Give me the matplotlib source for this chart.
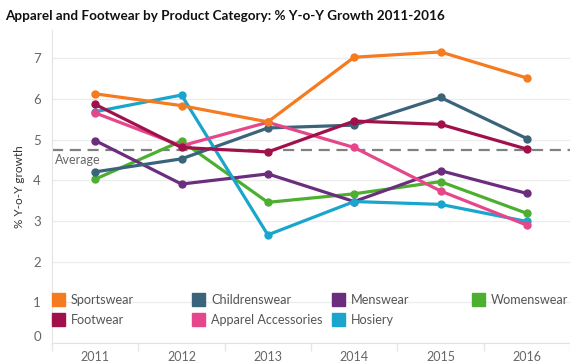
import matplotlib
matplotlib.use("Agg")
import matplotlib.pyplot as plt
from matplotlib.patches import Rectangle

years = ["2011", "2012", "2013", "2014", "2015", "2016"]

sportswear = [6.13, 5.84, 5.44, 7.03, 7.16, 6.52]
childrenswear = [4.21, 4.53, 5.29, 5.36, 6.04, 5.03]
menswear = [4.98, 3.91, 4.16, 3.48, 4.24, 3.68]
womenswear = [4.03, 4.97, 3.46, 3.67, 3.97, 3.19]
footwear = [5.87, 4.81, 4.70, 5.46, 5.38, 4.77]
apparel_acc = [5.66, 4.85, 5.43, 4.81, 3.74, 2.90]
hosiery = [5.69, 6.10, 2.66, 3.48, 3.41, 2.99]

average = 4.76

names = ["Sportswear", "Childrenswear", "Menswear", "Womenswear",
         "Footwear", "Apparel Accessories", "Hosiery"]
series = [sportswear, childrenswear, menswear, womenswear,
          footwear, apparel_acc, hosiery]
colors = ["#F47B20", "#3A6479", "#6B2E7E", "#4CAF30",
          "#A0104A", "#E6478A", "#1AA5CC"]

plt.rcParams['font.family'] = ['Lato', 'DejaVu Sans']

fig = plt.figure(figsize=(5.7, 3.64), dpi=100)
ax = fig.add_axes([52 / 570, 21 / 364, 518 / 570, 313 / 364])

x = list(range(len(years)))
# draw in an order so overlaps look like the original
draw_order = [3, 2, 1, 6, 5, 4, 0]
for i in draw_order:
    ax.plot(x, series[i], color=colors[i], lw=2.3, marker="o", ms=5,
            solid_capstyle="round", zorder=3)

ax.axhline(average, color="#808080", lw=1.6, ls=(0, (5, 3)), zorder=2)
ax.text(-0.46, average - 0.12, "Average", color="#666666", fontsize=9,
        va="top", ha="left")

ax.set_xlim(-0.5, 5.5)
ax.set_ylim(0, 7.7)
ax.set_yticks(range(0, 8))
ax.set_xticks(x)
ax.set_xticklabels(years)
ax.set_xticks([i + 0.5 for i in range(-1, 6)], minor=True)
ax.tick_params(axis="x", which="major", length=0, pad=6, labelsize=9,
               labelcolor="#666666")
ax.tick_params(axis="x", which="minor", length=6, color="#e6e6e6", width=1)
ax.tick_params(axis="y", length=0, pad=8, labelsize=9.5, labelcolor="#666666")
# Tableau keeps the zero label inside the axis
ax.get_yticklabels()[0].set_va("bottom")
ax.grid(axis="y", color="#ececec", lw=0.9, zorder=0)
ax.set_axisbelow(True)
for s in ["top", "right"]:
    ax.spines[s].set_visible(False)
ax.spines["left"].set_color("#e3e3e3")
ax.spines["bottom"].set_color("#e3e3e3")

ax.set_ylabel("% Y-o-Y growth", fontsize=8.5, color="#333333", labelpad=6)

# legend inside the plot, 4 columns x 2 rows
col_x = [0, 140, 280, 420]
row_y = [299, 319]
for k, (name, c) in enumerate(zip(names, colors)):
    r, cidx = divmod(k, 4)
    px = col_x[cidx]
    py = row_y[r]
    fx = (52 + px) / 570
    fy = (364 - py) / 364
    fig.patches.append(Rectangle((fx - 0.5 / 570, fy - 7 / 364), 13 / 570, 13 / 364,
                                 transform=fig.transFigure, color=c, zorder=5))
    fig.text(fx + 19 / 570, fy - 0.5 / 364, name, fontsize=9.1, color="#555555",
             va="center", ha="left")

fig.text(5 / 570, 1 - 16 / 364, "Apparel and Footwear by Product Category: % Y-o-Y Growth 2011-2016",
         fontsize=9.7, fontweight="bold", color="#111111", va="center", ha="left")

fig.savefig("out.png", dpi=100)
